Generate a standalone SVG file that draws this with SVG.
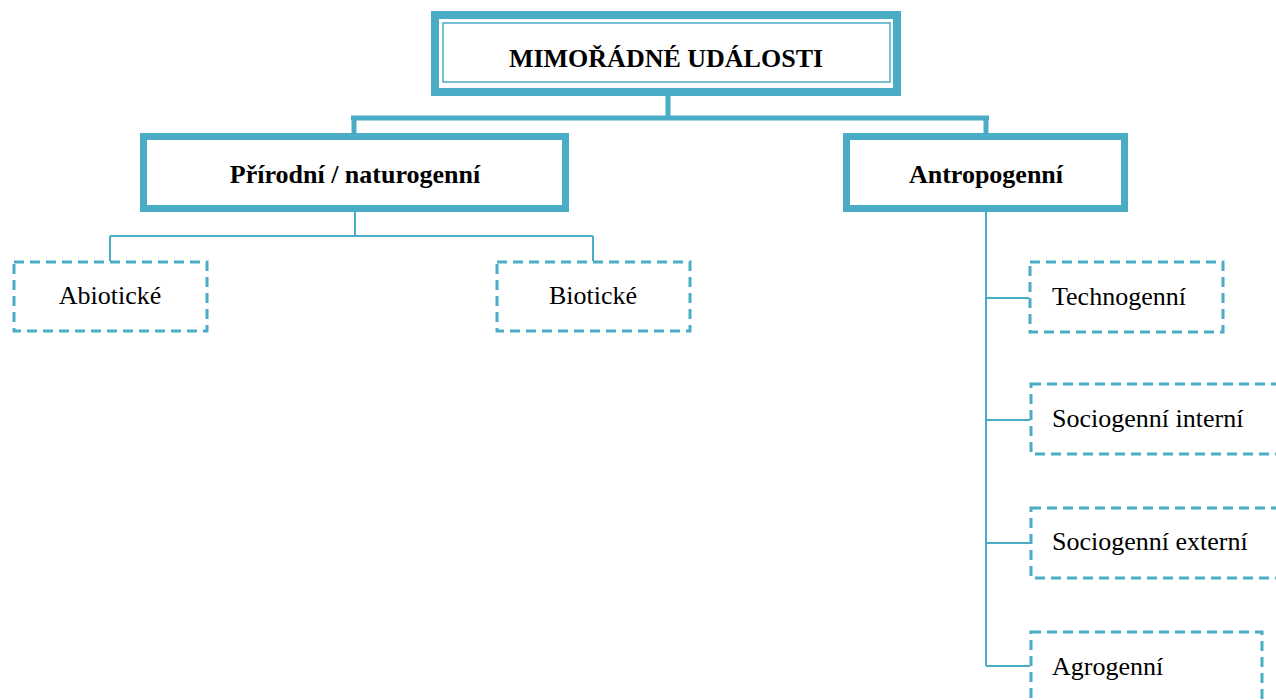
<svg xmlns="http://www.w3.org/2000/svg" width="1276" height="700" viewBox="0 0 1276 700">
<style>
.thick{fill:#fff;stroke:#4BACC6;stroke-width:7}
.thin{fill:none;stroke:#4BACC6;stroke-width:1.5}
.dash{fill:#fff;stroke:#4BACC6;stroke-width:3;stroke-dasharray:10 6}
.con{fill:none;stroke:#4BACC6}
.bold{font-family:"Liberation Serif","Times New Roman",serif;font-weight:bold;font-size:26px;fill:#000}
.reg{font-family:"Liberation Serif","Times New Roman",serif;font-size:26px;fill:#000}
</style>
<rect width="1276" height="700" fill="#fff"/>
<g id="connectors">
<path class="con" stroke-width="5" d="M668 96V118M351 118H989M354 118V134M986 118V134"/>
<path class="con" stroke-width="2" d="M355 212V236M110 236H593M110 236V261M593 236V261"/>
<path class="con" stroke-width="2" d="M986 212V666M986 298H1029M986 420H1030M986 543H1030M986 666H1030"/>
</g>
<g id="n_mimoradne">
<rect x="435" y="15" width="462" height="77" fill="#fff" stroke="#4BACC6" stroke-width="8"/>
<rect class="thin" x="443" y="23" width="447" height="59"/>
<text class="bold" x="666" y="67" text-anchor="middle">MIMOŘÁDNÉ UDÁLOSTI</text>
</g>
<g id="n_prirodni">
<rect class="thick" x="143.5" y="136.5" width="422" height="72"/>
<text class="bold" x="355" y="183" text-anchor="middle">Přírodní / naturogenní</text>
</g>
<g id="n_antropogenni">
<rect class="thick" x="846.5" y="136.5" width="278" height="72"/>
<text class="bold" x="986" y="183" text-anchor="middle">Antropogenní</text>
</g>
<g id="n_abioticke">
<rect class="dash" x="14" y="262" width="193" height="69"/>
<text class="reg" x="110" y="304" text-anchor="middle">Abiotické</text>
</g>
<g id="n_bioticke">
<rect class="dash" x="497" y="262" width="193" height="69"/>
<text class="reg" x="593" y="304" text-anchor="middle">Biotické</text>
</g>
<g id="n_technogenni">
<rect class="dash" x="1030" y="262" width="193" height="70"/>
<text class="reg" x="1052" y="305">Technogenní</text>
</g>
<g id="n_socio_int">
<rect class="dash" x="1031" y="384" width="260" height="70"/>
<text class="reg" x="1052" y="427">Sociogenní interní</text>
</g>
<g id="n_socio_ext">
<rect class="dash" x="1031" y="508" width="260" height="70"/>
<text class="reg" x="1052" y="550">Sociogenní externí</text>
</g>
<g id="n_agrogenni">
<rect class="dash" x="1031" y="632" width="231" height="90"/>
<text class="reg" x="1052" y="675">Agrogenní</text>
</g>
</svg>
